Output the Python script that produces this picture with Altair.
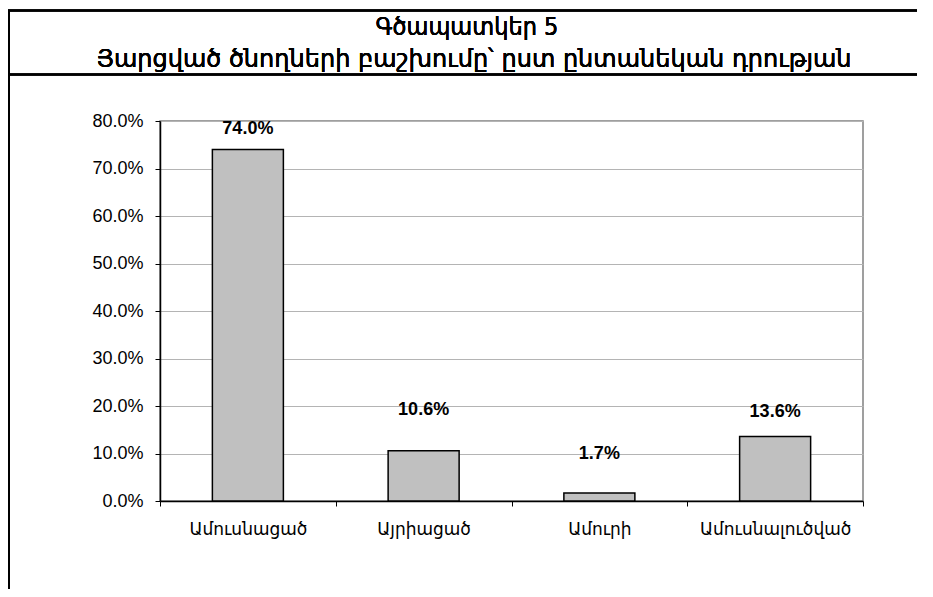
import altair as alt
import pandas as pd

categories = ["Ամուսնացած", "Այրիացած", "Ամուրի", "Ամուսնալուծված"]
shares = [0.740, 0.106, 0.017, 0.136]
label_dy = [-21, -41, -39, -24]
y_ticks = [0.0, 0.1, 0.2, 0.3, 0.4, 0.5, 0.6, 0.7, 0.8]
title_line1 = "Գծապատկեր 5"
title_line2 = "Յարցված ծնողների բաշխումը՝ ըստ ընտանեկան դրության"

df = pd.DataFrame({"cat": categories, "share": shares, "dy": label_dy})

W, H = 703, 380

xenc = alt.X(
    "cat:N", sort=categories, title=None,
    scale=alt.Scale(paddingInner=0, paddingOuter=0),
    axis=alt.Axis(
        tickBand="extent", labelAngle=0, labelFont="DejaVu Sans", labelFontSize=17,
        labelColor="#000", labelPadding=15, tickSize=5, tickColor="#000",
        domainColor="#000", domainWidth=1.5, tickWidth=1, grid=False,
    ),
)
yenc = alt.Y(
    "share:Q", title=None,
    scale=alt.Scale(domain=[0, 0.8], nice=False),
    axis=alt.Axis(
        values=y_ticks, format=".1%", labelFont="Liberation Sans", labelFontSize=18,
        labelColor="#000", labelPadding=12, tickSize=5, tickColor="#000",
        domainColor="#000", domainWidth=1.5, gridColor="#b4b4b4", gridWidth=1,
    ),
)

bars = alt.Chart(df).mark_bar(
    size=71, color="#c0c0c0", stroke="#000", strokeWidth=1.5
).encode(x=xenc, y=yenc)

labels = []
for c, v, d in zip(categories, shares, label_dy):
    labels.append(
        alt.Chart(df[df["cat"] == c]).mark_text(
            font="Liberation Sans", fontSize=18, fontWeight="bold", color="#000",
            baseline="middle", dy=d,
        ).encode(
            x=alt.X("cat:N", sort=categories),
            y=alt.Y("share:Q"),
            text=alt.Text("share:Q", format=".1%"),
        )
    )

frame_top = alt.Chart(df).mark_rule(color="#000", strokeWidth=2).encode(
    x=alt.value(-152), x2=alt.value(757), y=alt.value(-110.5))
frame_sep = alt.Chart(df).mark_rule(color="#000", strokeWidth=2).encode(
    x=alt.value(-152), x2=alt.value(757), y=alt.value(-46.5))
frame_left = alt.Chart(df).mark_rule(color="#000", strokeWidth=2).encode(
    x=alt.value(-151), y=alt.value(-111), y2=alt.value(480))

t1 = alt.Chart(df).mark_text(
    text=title_line1, font="DejaVu Sans Condensed", fontSize=25, color="#000",
    align="center", baseline="alphabetic").encode(x=alt.value(307), y=alt.value(-86))
t2 = alt.Chart(df).mark_text(
    text=title_line2, font="DejaVu Sans", fontSize=24, color="#000",
    align="center", baseline="alphabetic").encode(x=alt.value(314), y=alt.value(-54))

chart = alt.layer(bars, *labels, frame_top, frame_sep, frame_left, t1, t2).properties(
    width=W, height=H,
    autosize=alt.AutoSizeParams(type="none"),
    padding={"left": 152, "top": 113, "right": 62, "bottom": 88},
    background="white",
).configure_view(stroke="#808080", strokeWidth=1.5)

chart.save("out.html", embed_options={"renderer": "svg", "actions": False})
